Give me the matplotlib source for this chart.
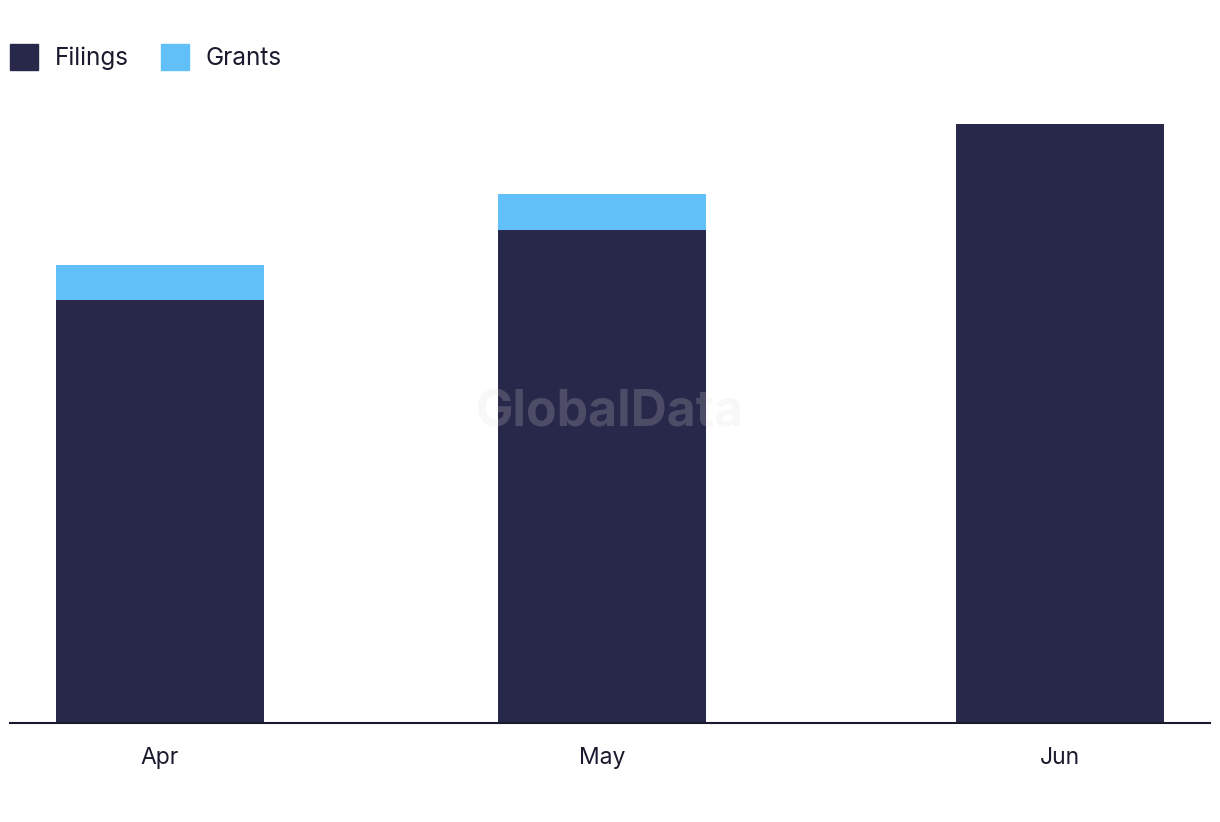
import matplotlib.pyplot as plt
from matplotlib.patches import Patch
import numpy as np

plt.rcParams['font.family'] = ['Inter', 'DejaVu Sans']

months = ['Apr', 'May', 'Jun']
filings = [12, 14, 17]
grants = [1, 1, 0]

c_fil = '#28284a'
c_gra = '#62c0f8'

fig = plt.figure(figsize=(12.2, 8.22), dpi=100)
ax = fig.add_axes([10 / 1220, 99 / 822, 1200 / 1220, 599 / 822])

# slightly uneven spacing as in the original layout
x = np.array([0, 0.983, 2])
ax.bar(x, filings, width=0.462, color=c_fil, zorder=2)
ax.bar(x, grants, width=0.462, bottom=filings, color=c_gra, zorder=2)

ax.set_xlim(-0.333, 2.333)
ax.set_ylim(0, 17)
ax.set_xticks(x)
ax.set_xticklabels(months, fontsize=16.5, color='#1a1a2e')
ax.tick_params(axis='x', length=0, pad=17)
ax.set_yticks([])
for s in ['top', 'right', 'left']:
    ax.spines[s].set_visible(False)
ax.spines['bottom'].set_color('#1a1a2e')
ax.spines['bottom'].set_linewidth(1.5)
ax.spines['bottom'].set_zorder(3)

# watermark
fig.text(0.5, 1 - 413 / 822, 'GlobalData', fontsize=36, fontweight='bold',
         color='#dddddd', alpha=0.2, ha='center', va='center', zorder=5)

handles = [Patch(color=c_fil, label='Filings'), Patch(color=c_gra, label='Grants')]
fig.legend(handles=handles, loc='upper left', bbox_to_anchor=(10 / 1220, 1 - 44 / 822),
           ncol=2, frameon=False, fontsize=17.5, handlelength=1.15, handleheight=1.3,
           handletextpad=0.7, columnspacing=1.3, labelcolor='#1a1a2e',
           borderaxespad=0, borderpad=0)

fig.savefig('out.png', dpi=100)
